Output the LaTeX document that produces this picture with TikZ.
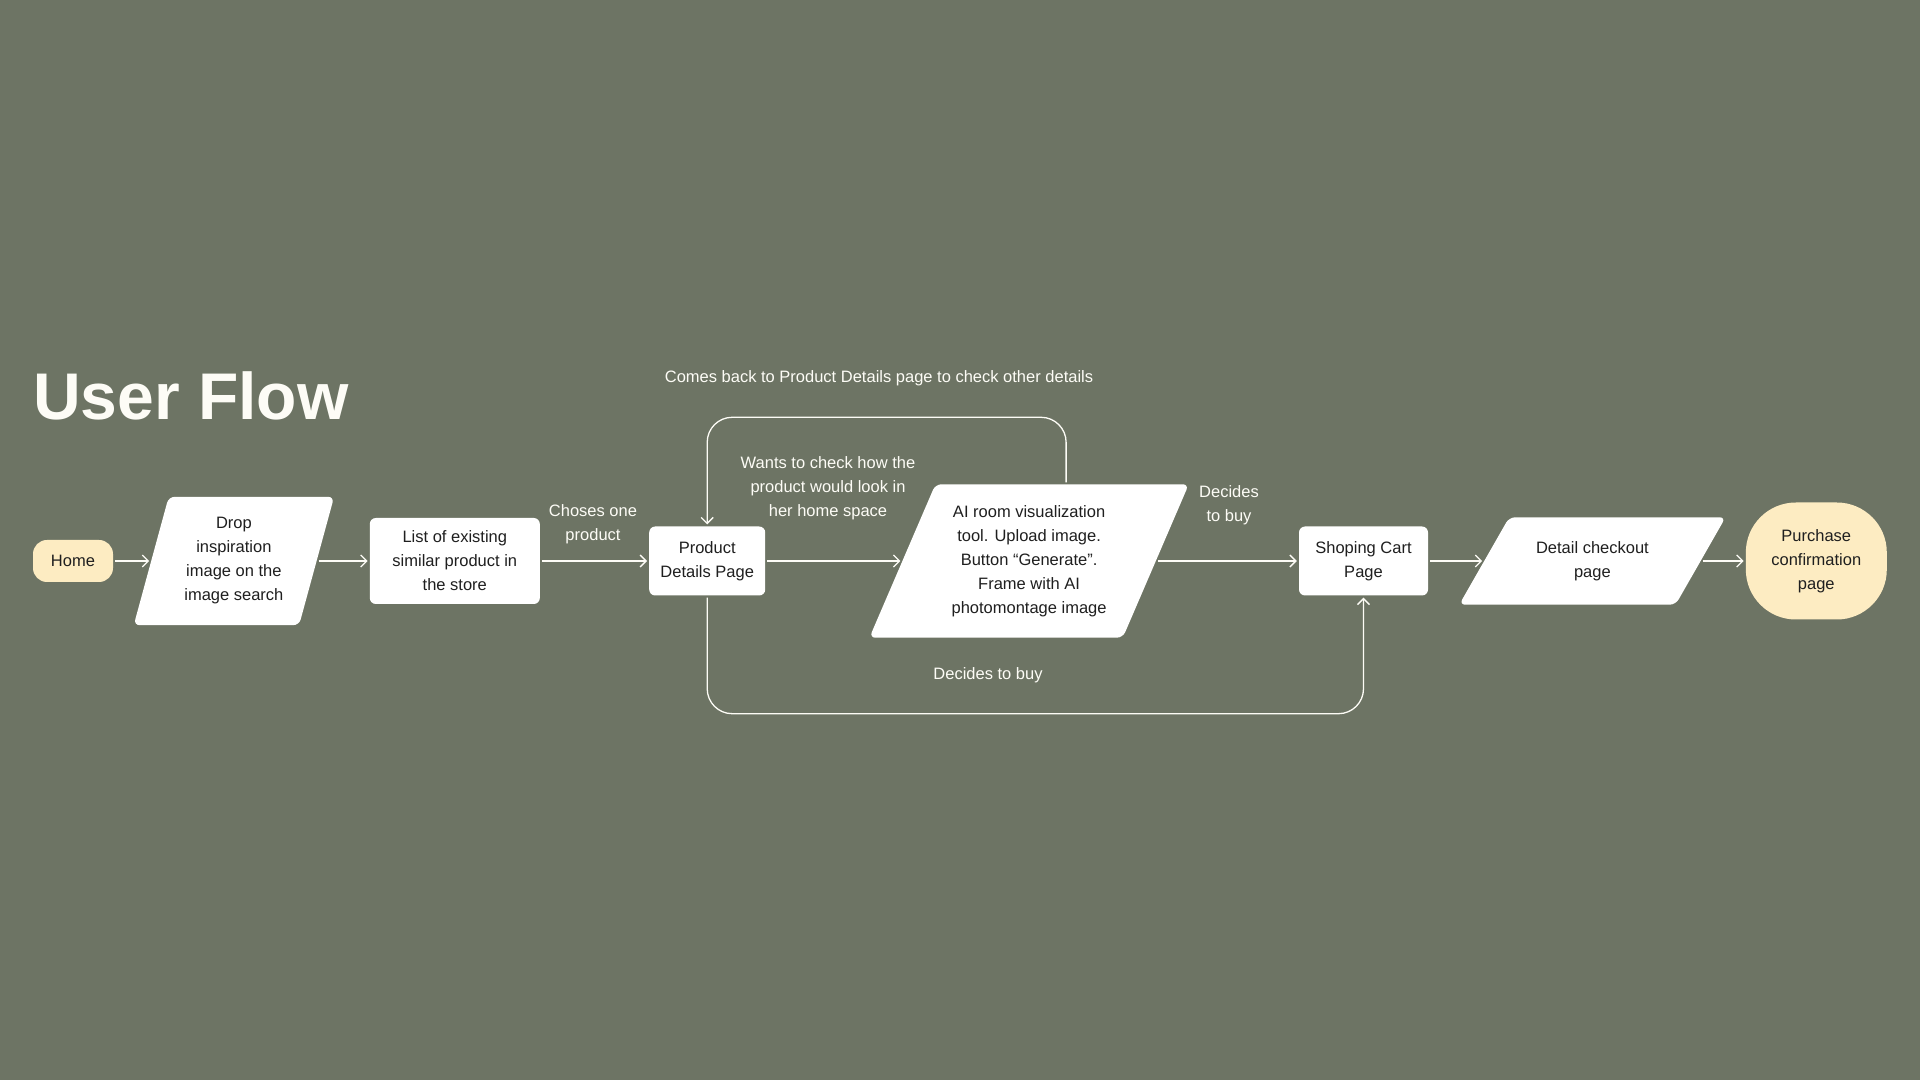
\documentclass[tikz,border=0pt]{standalone}
\usepackage{fontspec}
\setmainfont{Liberation Sans}
\usetikzlibrary{positioning,arrows.meta,backgrounds}
\definecolor{sage}{HTML}{6D7464}
\definecolor{cream}{HTML}{FDECC2}
\definecolor{ink}{HTML}{1F1F1F}
\definecolor{paper}{HTML}{FDFCF6}
\newcommand{\slantfill}[2]{\fill[white, rounded corners=6pt] ([xshift=#2]#1.north west) -- ([xshift=#2]#1.north east) -- ([xshift=-#2]#1.south east) -- ([xshift=-#2]#1.south west) -- cycle;}

\begin{document}
\begin{tikzpicture}[x=1pt, y=1pt, >={Straight Barb[length=6pt,width=12pt]},
    every node/.style={font=\fontsize{16.5}{24}\selectfont, text=paper, align=center},
    pagebox/.style={fill=white, rounded corners=6pt, text=ink, inner sep=0pt},
    slantbox/.style={text=ink, inner sep=0pt},
    endbox/.style={fill=cream, text=ink, inner sep=0pt},
    flow/.style={->, draw=paper, line width=1.3pt, shorten >=2pt, shorten <=2pt}]
    \useasboundingbox (0,0) rectangle (1920,1080);
    \node[anchor=base west, inner sep=0pt, font=\fontsize{66}{70}\selectfont\bfseries] (title) at (33,660) {User Flow};
    \node[endbox, rounded corners=14pt, minimum width=80pt, minimum height=42pt] (home) at (73,519) {Home};
    \node[slantbox, right=38pt of home, minimum width=165pt, minimum height=128pt] (drop) {Drop\\inspiration\\image on the\\image search};
    \node[pagebox, right=53pt of drop, minimum width=170pt, minimum height=86pt] (list) {List of existing\\similar product in\\the store};
    \node[pagebox, right=109pt of list, minimum width=116pt, minimum height=69pt] (prod) {Product\\Details Page};
    \node[slantbox, right=137pt of prod, minimum width=253pt, minimum height=153pt] (ai) {AI room visualization\\tool. Upload image.\\Button “Generate”.\\Frame with AI\\photomontage image};
    \node[pagebox, right=143pt of ai, minimum width=129pt, minimum height=69pt] (shop) {Shoping Cart\\Page};
    \node[slantbox, right=56pt of shop, minimum width=216pt, minimum height=87pt] (detail) {Detail checkout\\page};
    \node[endbox, rounded corners=50pt, right=45pt of detail, minimum width=141pt, minimum height=117pt] (done) {Purchase\\confirmation\\page};
    \begin{scope}[on background layer]
        \fill[sage] (0,0) rectangle (1920,1080);
        \slantfill{drop}{17.5pt}
        \slantfill{ai}{33pt}
        \slantfill{detail}{25pt}
    \end{scope}
    \draw[flow] (home) -- (drop);
    \draw[flow] (drop) -- (list);
    \draw[flow] (list) -- (prod);
    \draw[flow] (prod) -- (ai);
    \draw[flow] (ai) -- (shop);
    \draw[flow] (shop) -- (detail);
    \draw[flow] (detail) -- (done);
    \draw[flow, rounded corners=25pt] ([xshift=37pt]ai.north) |- ([yshift=109pt]prod.north) -- (prod.north);
    \draw[flow, rounded corners=25pt] (prod.south) -- ++(0,-118) -| (shop.south);
    \node (comes) at (879,702) {Comes back to Product Details page to check other details};
    \node (wants) at (828,592) {Wants to check how the\\product would look in\\her home space};
    \node (choses) at (593,556) {Choses one\\product};
    \node (decides) at (1229,575) {Decides\\to buy};
    \node (buy) at (988,405) {Decides to buy};
\end{tikzpicture}
\end{document}
